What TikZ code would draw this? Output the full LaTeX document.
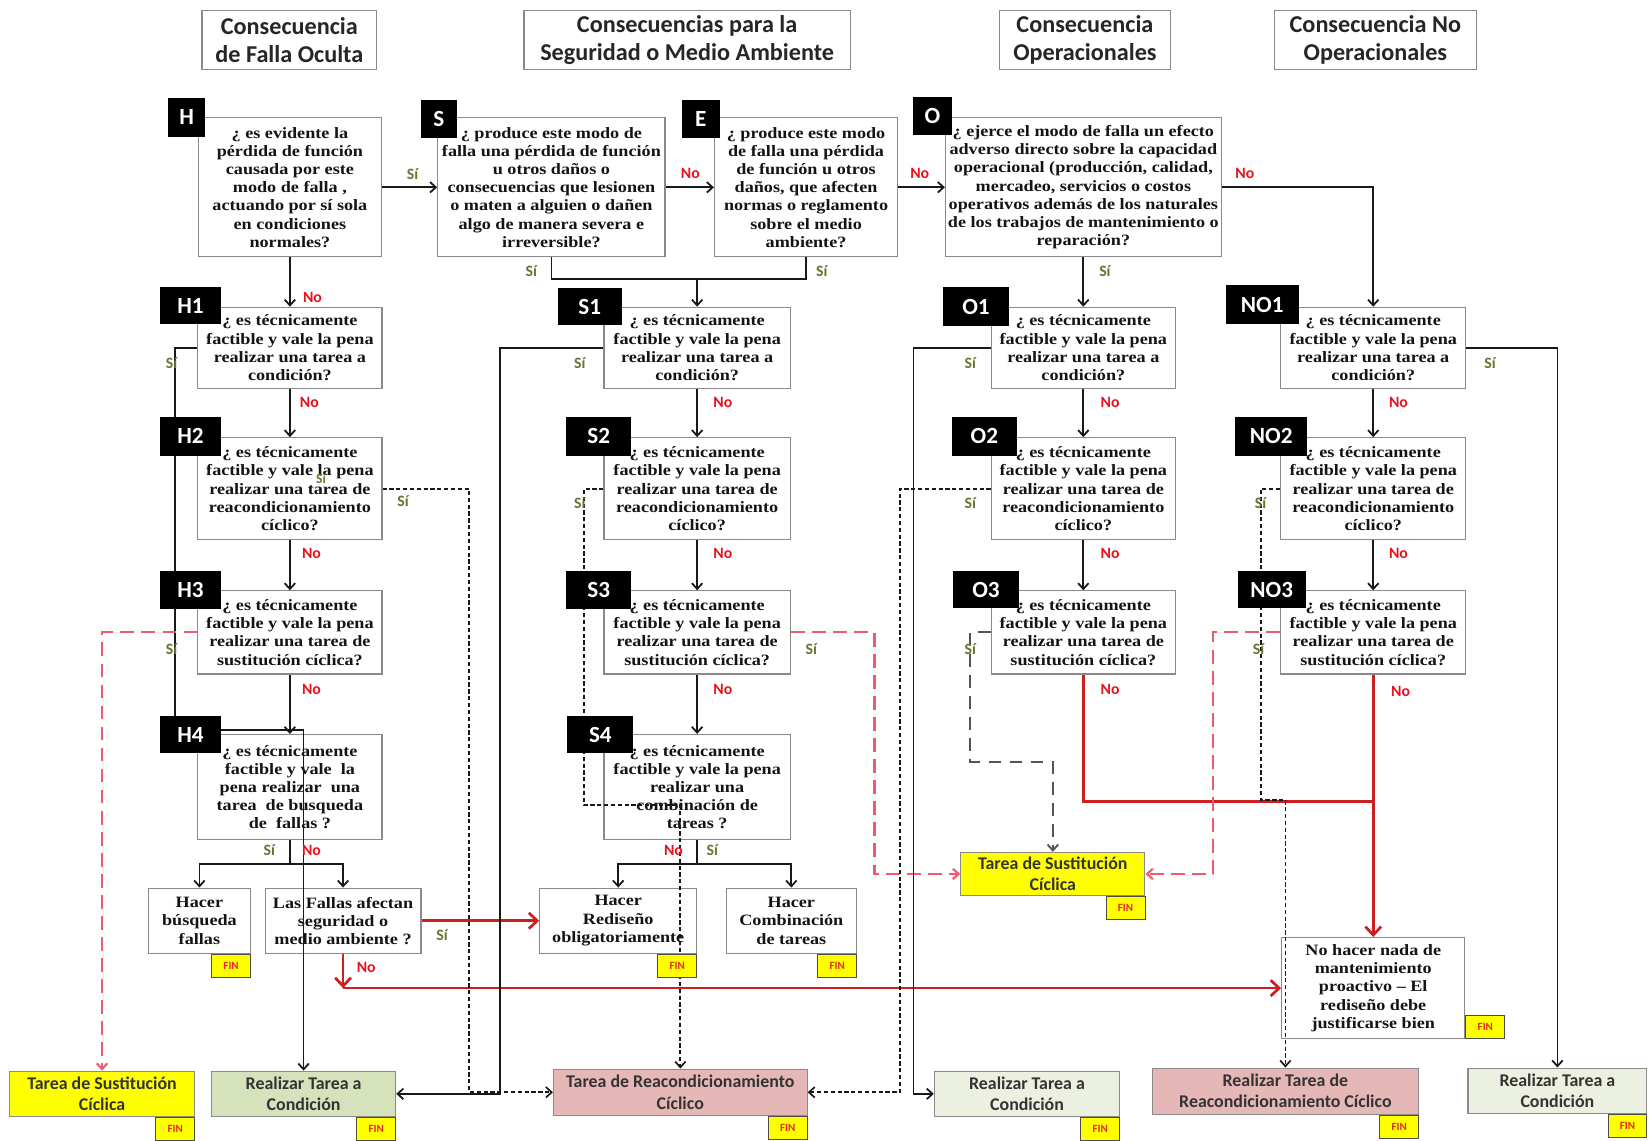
\documentclass[tikz,border=0pt]{standalone}
\usepackage{fontspec}
\setmainfont{Liberation Serif}
\newfontfamily\qfam[FakeStretch=1.15]{Liberation Serif}
\newfontfamily\cfam{Carlito}
\usetikzlibrary{arrows.meta}
\definecolor{boxgray}{HTML}{8A8A8A}
\definecolor{olivesi}{HTML}{6E7030}
\definecolor{rojono}{HTML}{E8121E}
\definecolor{redline}{HTML}{CC1F1F}
\definecolor{reddash}{HTML}{F05A6E}
\definecolor{greydash}{HTML}{555555}
\definecolor{yel}{HTML}{FFFF00}
\definecolor{greenA}{HTML}{D5E2BB}
\definecolor{greenB}{HTML}{EBF0E0}
\definecolor{pinkA}{HTML}{E5B8B7}
\definecolor{fintext}{HTML}{E52B1E}
\begin{document}
\begin{tikzpicture}[x=1pt,y=-1pt,
  qbox/.style={draw=boxgray, line width=1.1pt, align=center, inner sep=1pt, text=black!92,
     font=\qfam\bfseries\fontsize{15}{17.3}\selectfont},
  hdr/.style={draw=boxgray, line width=1.1pt, align=center, text=black!85,
     font=\cfam\bfseries\fontsize{23}{26}\selectfont},
  tag/.style={fill=black, text=white, inner sep=0pt, font=\cfam\bfseries\fontsize{22}{22}\selectfont},
  cbox/.style={draw=boxgray, line width=1.1pt, align=center, inner sep=1pt, text=black!80,
     font=\cfam\bfseries\fontsize{17}{20}\selectfont},
  fin/.style={draw=black!70, line width=0.9pt, fill=yel, text=fintext, minimum width=37, minimum height=22,
     inner sep=0pt, font=\cfam\bfseries\fontsize{10.5}{10.5}\selectfont},
  si/.style={inner sep=0pt, text=olivesi, font=\cfam\bfseries\fontsize{15}{15}\selectfont},
  no/.style={inner sep=0pt, text=rojono, font=\cfam\bfseries\fontsize{15}{15}\selectfont},
  cn/.style={line width=1.7pt, draw=black!90},
  arr/.style={-{Straight Barb[length=5.5pt,width=10pt]}},
  dsh/.style={line width=1.6pt, draw=black!90, dash pattern=on 4pt off 2.5pt},
  rdsh/.style={line width=2pt, draw=reddash, dash pattern=on 13pt off 7pt},
  gdsh/.style={line width=1.8pt, draw=greydash, dash pattern=on 12pt off 8pt},
  rl/.style={line width=2.6pt, draw=redline},
  bigarr/.style={-{Straight Barb[length=8pt,width=15pt]}}
]
\fill[white] (0,0) rectangle (1568,1084);
\useasboundingbox (0,0) rectangle (1568,1084);

% headers
\node[hdr, minimum width=166, minimum height=56] (hd1) at (275,38) {Consecuencia\\de Falla Oculta};
\node[hdr, minimum width=310, minimum height=56] (hd2) at (653,38) {Consecuencias para la\\Seguridad o Medio Ambiente};
\node[hdr, minimum width=162, minimum height=56] (hd3) at (1031,38) {Consecuencia\\Operacionales};
\node[hdr, minimum width=192, minimum height=56] (hd4) at (1307,38) {Consecuencia No\\Operacionales};

% first row questions
\node[qbox, minimum width=174, minimum height=132] (H) at (275.5,178) {¿ es evidente la\\pérdida de función\\causada por este\\modo de falla ,\\actuando por sí sola\\en condiciones\\normales?};
\node[qbox, minimum width=216, minimum height=132] (S) at (524,178) {¿ produce este modo de\\falla una pérdida de función\\u otros daños o\\consecuencias que lesionen\\o maten a alguien o dañen\\algo de manera severa e\\irreversible?};
\node[qbox, minimum width=174, minimum height=132] (E) at (766,178) {¿ produce este modo\\de falla una pérdida\\de función u otros\\daños, que afecten\\normas o reglamento\\sobre el medio\\ambiente?};
\node[qbox, minimum width=262, minimum height=132] (O) at (1029.5,178) {¿ ejerce el modo de falla un efecto\\adverso directo sobre la capacidad\\operacional (producción, calidad,\\mercadeo, servicios o costos\\operativos además de los naturales\\de los trabajos de mantenimiento o\\reparación?};

% columns
\foreach \n/\x/\w in {H/275.5/175, S/662.5/177, O/1029.5/175, NO/1305/176}{
  \node[qbox, minimum width=\w, minimum height=77] (\n1) at (\x,330.5) {¿ es técnicamente\\factible y vale la pena\\realizar una tarea a\\condición?};
  \node[qbox, minimum width=\w, minimum height=97] (\n2) at (\x,464.5) {¿ es técnicamente\\factible y vale la pena\\realizar una tarea de\\reacondicionamiento\\cíclico?};
  \node[qbox, minimum width=\w, minimum height=79] (\n3) at (\x,601) {¿ es técnicamente\\factible y vale la pena\\realizar una tarea de\\sustitución cíclica?};
}
\node[qbox, minimum width=175, minimum height=100] (H4) at (275.5,748) {¿ es técnicamente\\factible y vale\ \ la\\pena realizar\ \ una\\tarea\ \ de busqueda\\de\ \ fallas ?};
\node[qbox, minimum width=177, minimum height=100] (S4) at (662.5,748) {¿ es técnicamente\\factible y vale la pena\\realizar una\\combinación de\\tareas ?};

% lower boxes
\node[qbox, minimum width=97, minimum height=62] (hb) at (189.5,875) {Hacer\\búsqueda\\fallas};
\node[qbox, minimum width=148, minimum height=62] (lf) at (326,875) {Las Fallas afectan\\seguridad o\\medio ambiente ?};
\node[qbox, minimum width=149, minimum height=62] (hr) at (587.5,875) {Hacer\\Rediseño\\obligatoriamente};
\node[qbox, minimum width=124, minimum height=62] (hc) at (752,875) {Hacer\\Combinación\\de tareas};
\node[cbox, fill=yel, minimum width=175, minimum height=41] (ysR) at (1000.5,830.5) {Tarea de Sustitución\\Cíclica};
\node[qbox, minimum width=174, minimum height=96] (nh) at (1305,939) {No hacer nada de\\mantenimiento\\proactivo – El\\rediseño debe\\justificarse bien};
\node[cbox, fill=yel, minimum width=176, minimum height=43] (ysL) at (97,1039.5) {Tarea de Sustitución\\Cíclica};
\node[cbox, fill=greenA, minimum width=175, minimum height=43] (rcL) at (288.5,1039.5) {Realizar Tarea a\\Condición};
\node[cbox, fill=pinkA, minimum width=241, minimum height=44] (trc) at (646.5,1038) {Tarea de Reacondicionamiento\\Cíclico};
\node[cbox, fill=greenB, minimum width=176, minimum height=43] (rcO) at (976,1039.5) {Realizar Tarea a\\Condición};
\node[cbox, fill=pinkA, minimum width=253, minimum height=44] (rtr) at (1221.5,1037) {Realizar Tarea de\\Reacondicionamiento Cíclico};
\node[cbox, fill=greenB, minimum width=170, minimum height=43] (rcN) at (1480,1036.5) {Realizar Tarea a\\Condición};

% bend coordinates
\coordinate (jSE) at (662.5,265);
\coordinate (jH4) at (275.5,821);
\coordinate (jS4) at (662.5,821);
\coordinate (cLF) at (326,939);
\coordinate (bH1) at (166,694);
\coordinate (bH2) at (446,1038);
\coordinate (bS1) at (475,1039.5);
\coordinate (bS2) at (555,765);
\coordinate (bS3) at (831,830.5);
\coordinate (bO1) at (868,1039.5);
\coordinate (bO2) at (855,1038);
\coordinate (bO3) at (922,724);
\coordinate (jR) at (1305,762);
\coordinate (bN2) at (1198,760);
\coordinate (bN3) at (1153,830.5);

% main flow
\draw[cn,arr] (H.east) -- (S.west);
\draw[cn,arr] (S.east) -- (E.west);
\draw[cn,arr] (E.east) -- (O.west);
\draw[cn,arr] (O.east) -- (O.east -| NO1.north) -- (NO1.north);
\draw[cn,arr] (H.south) -- (H1.north);
\draw[cn] (S.south) -- (S.south |- jSE) -- (E.south |- jSE) -- (E.south);
\draw[cn,arr] (jSE) -- (S1.north);
\draw[cn,arr] (O.south) -- (O1.north);
\foreach \n in {H,S,O,NO}{
  \draw[cn,arr] (\n1.south) -- (\n2.north);
  \draw[cn,arr] (\n2.south) -- (\n3.north);
}
\draw[cn,arr] (H3.south) -- (H4.north);
\draw[cn,arr] (S3.south) -- (S4.north);
\draw[cn] (H4.south) -- (jH4);
\draw[cn,arr] (jH4) -| (hb.north);
\draw[cn,arr] (jH4) -| (lf.north);
\draw[cn] (S4.south) -- (jS4);
\draw[cn,arr] (jS4) -| (hr.north);
\draw[cn,arr] (jS4) -| (hc.north);

% red solid
\draw[rl,bigarr] (lf.east) -- (hr.west);
\draw[rl,bigarr] (lf.south) -- (cLF);
\draw[rl,bigarr] (cLF) -- (nh.west);
\draw[rl] (O3.south) -- (O3.south |- jR) -- (jR);
\draw[rl,bigarr] (NO3.south) -- (nh.north);

% yes branches
\draw[cn,arr] (H1.west) -- (H1.west -| bH1) -- (bH1) -- (bH1 -| rcL.north) -- (rcL.north);
\draw[dsh,arr] (H2.east) -- (H2.east -| bH2) -- (bH2) -- (trc.west);
\draw[rdsh,arr] (H3.west) -- (H3.west -| ysL.north) -- (ysL.north);
\draw[cn,arr] (S1.west) -- (S1.west -| bS1) -- (bS1) -- (rcL.east);
\draw[dsh,arr] (S2.west) -- (S2.west -| bS2) -- (bS2) -- (bS2 -| trc.north) -- (trc.north);
\draw[rdsh,arr] (S3.east) -- (S3.east -| bS3) -- (bS3) -- (ysR.west);
\draw[cn,arr] (O1.west) -- (O1.west -| bO1) -- (bO1) -- (rcO.west);
\draw[dsh,arr] (O2.west) -- (O2.west -| bO2) -- (bO2) -- (trc.east);
\draw[gdsh,arr] (O3.west) -- (O3.west -| bO3) -- (bO3) -- (bO3 -| ysR.north) -- (ysR.north);
\draw[cn,arr] (NO1.east) -- (NO1.east -| rcN.north) -- (rcN.north);
\draw[dsh,arr] (NO2.west) -- (NO2.west -| bN2) -- (bN2) -- (bN2 -| rtr.north) -- (rtr.north);
\draw[rdsh,arr] (NO3.west) -- (NO3.west -| bN3) -- (bN3) -- (ysR.east);

% FIN tags
\node[fin, anchor=north east] (f1) at (hb.south east) {FIN};
\node[fin, anchor=north east] (f2) at (hr.south east) {FIN};
\node[fin, anchor=north east] (f3) at (hc.south east) {FIN};
\node[fin, anchor=north east] (f4) at (ysR.south east) {FIN};
\node[fin, anchor=south west] (f5) at (nh.south east) {FIN};
\node[fin, anchor=north east] (f6) at (ysL.south east) {FIN};
\node[fin, anchor=north east] (f7) at (rcL.south east) {FIN};
\node[fin, anchor=north east] (f8) at (trc.south east) {FIN};
\node[fin, anchor=north east] (f9) at (rcO.south east) {FIN};
\node[fin, anchor=north east] (f10) at (rtr.south east) {FIN};
\node[fin, anchor=north east] (f11) at (rcN.south east) {FIN};

% Si labels
\foreach \x/\y [count=\i] in {392/165, 505/258, 781/258, 1050/258, 163/345, 383/476, 163/617,
  256/808, 677/808, 551/345, 551/478, 771/617, 420/889, 922/345, 922/478, 922/617, 1416/345, 1198/478, 1196/617}
  \node[si] (si\i) at (\x,\y) {Sí};
\node[si, font=\cfam\bfseries\fontsize{13}{13}\selectfont] (siX) at (305,455) {Sí};
% No labels
\foreach \x/\y [count=\i] in {656/165, 874/165, 1183/165, 297/283, 294/382, 296/526, 296/655, 296/808,
  687/382, 687/526, 687/655, 640/808, 1055/382, 1055/526, 1055/655, 1329/382, 1329/526, 1331/657, 348/919}
  \node[no] (no\i) at (\x,\y) {No};

% black tags
\node[tag, minimum width=35, minimum height=37] (tH) at (177.5,111.5) {H};
\node[tag, minimum width=34, minimum height=36] (tS) at (417,113) {S};
\node[tag, minimum width=36, minimum height=36] (tE) at (666,113) {E};
\node[tag, minimum width=37, minimum height=36] (tO) at (886,110) {O};
\node[tag, minimum width=58, minimum height=35] (tH1) at (181,290.5) {H1};
\node[tag, minimum width=58, minimum height=37] (tH2) at (181,414.5) {H2};
\node[tag, minimum width=58, minimum height=36] (tH3) at (181,561) {H3};
\node[tag, minimum width=58, minimum height=36] (tH4) at (181,698) {H4};
\node[tag, minimum width=61, minimum height=35] (tS1) at (560.5,291.5) {S1};
\node[tag, minimum width=62, minimum height=37] (tS2) at (569,414.5) {S2};
\node[tag, minimum width=62, minimum height=36] (tS3) at (569,561) {S3};
\node[tag, minimum width=63, minimum height=36] (tS4) at (570.5,698) {S4};
\node[tag, minimum width=63, minimum height=37] (tO1) at (927.5,291.5) {O1};
\node[tag, minimum width=61, minimum height=37] (tO2) at (935.5,414.5) {O2};
\node[tag, minimum width=62, minimum height=35] (tO3) at (937,560.5) {O3};
\node[tag, minimum width=69, minimum height=37] (tNO1) at (1199.5,289.5) {NO1};
\node[tag, minimum width=68, minimum height=37] (tNO2) at (1208,414.5) {NO2};
\node[tag, minimum width=65, minimum height=35] (tNO3) at (1208.5,560.5) {NO3};
\end{tikzpicture}
\end{document}
